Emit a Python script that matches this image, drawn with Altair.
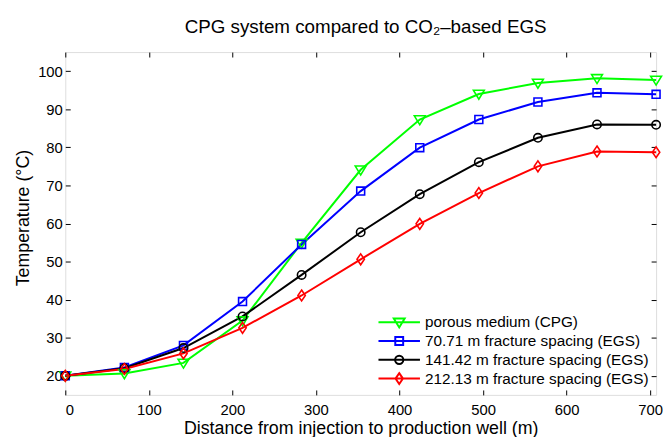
import altair as alt
import pandas as pd

# ---- data ----
distance = [0, 70.71, 141.42, 212.13, 282.84, 353.55, 424.26, 494.97, 565.69, 636.40, 707.11]
series_names = [
    "porous medium (CPG)",
    "70.71 m fracture spacing (EGS)",
    "141.42 m fracture spacing (EGS)",
    "212.13 m fracture spacing (EGS)",
]
temp_cpg = [20.0, 20.6, 23.4, 34.5, 54.9, 74.1, 87.3, 94.0, 96.9, 98.1, 97.7]
temp_70 = [20.0, 22.2, 28.0, 39.5, 54.5, 68.5, 79.9, 87.3, 91.9, 94.3, 93.9]
temp_141 = [20.0, 22.0, 27.3, 35.6, 46.5, 57.7, 67.7, 76.1, 82.5, 86.0, 85.9]
temp_212 = [20.0, 21.8, 25.9, 32.6, 41.1, 50.6, 59.9, 68.0, 75.0, 78.9, 78.7]
x_ticks = [0, 100, 200, 300, 400, 500, 600, 700]
y_ticks = [20, 30, 40, 50, 60, 70, 80, 90, 100]

colors = ["#00ff00", "#0000ff", "#000000", "#ff0000"]

# marker paths (plot) and legend paths (line + marker)
marker_paths = [
    "M-1.1,-0.75L1.1,-0.75L0,1.05Z",
    "M-0.8,-0.8H0.8V0.8H-0.8Z",
    "M0.85,0A0.85,0.85,0,1,1,-0.85,0A0.85,0.85,0,1,1,0.85,0",
    "M0,-1.1L0.75,0L0,1.1L-0.75,0Z",
]
legend_paths = [
    "M-1,0H1M-0.262,-0.179L0.262,-0.179L0,0.25Z",
    "M-1,0H1M-0.19,-0.19H0.19V0.19H-0.19Z",
    "M-1,0H1M0.2,0A0.2,0.2,0,1,1,-0.2,0A0.2,0.2,0,1,1,0.2,0",
    "M-1,0H1M0,-0.262L0.179,0L0,0.262L-0.179,0Z",
]

rows = []
for name, vals in zip(series_names, [temp_cpg, temp_70, temp_141, temp_212]):
    for d, t in zip(distance, vals):
        rows.append({"dist": d, "temp": t, "series": name})
df = pd.DataFrame(rows)

FONT = "Liberation Sans"
xscale = alt.Scale(domain=[0, 707.11], nice=False, zero=False)
yscale = alt.Scale(domain=[15, 105], nice=False, zero=False)
cscale = alt.Scale(domain=series_names, range=colors)

base = alt.Chart(df)

# layer 1: lines, with labelled axes
lines = base.mark_line(strokeWidth=2).encode(
    x=alt.X("dist:Q", scale=xscale, axis=alt.Axis(
        orient="bottom", values=x_ticks, ticks=False, tickSize=0, domain=False, grid=False,
        labelFont=FONT, labelFontSize=15, labelColor="black", labelPadding=8,
        title="Distance from injection to production well (m)", titleFont=FONT,
        titleFontSize=18, titleFontWeight="normal", titleColor="black",
        titleBaseline="alphabetic", titleY=39)),
    y=alt.Y("temp:Q", scale=yscale, axis=alt.Axis(
        orient="left", values=y_ticks, ticks=False, tickSize=0, domain=False, grid=False,
        labelFont=FONT, labelFontSize=15, labelColor="black", labelPadding=3,
        title="Temperature (°C)", titleFont=FONT, titleFontSize=18,
        titleFontWeight="normal", titleColor="black", titleBaseline="alphabetic",
        titleX=-37.7, titleY=167.5)),
    color=alt.Color("series:N", scale=cscale, legend=None),
    order=alt.Order("dist:Q"),
)

# layer 2: markers, with inward ticks at bottom/left
points = base.mark_point(filled=False, strokeWidth=1.6, size=100, opacity=1).encode(
    x=alt.X("dist:Q", scale=xscale, axis=alt.Axis(
        orient="bottom", values=x_ticks, labels=False, domain=False, grid=False,
        ticks=True, tickSize=5, tickColor="black", offset=-5, title=None)),
    y=alt.Y("temp:Q", scale=yscale, axis=alt.Axis(
        orient="left", values=y_ticks, labels=False, domain=False, grid=False,
        ticks=True, tickSize=5, tickColor="black", offset=-5, title=None)),
    color=alt.Color("series:N", scale=cscale, legend=None),
    shape=alt.Shape("series:N", scale=alt.Scale(domain=series_names, range=marker_paths), legend=None),
)

leg = alt.Legend(
    title=None, orient="none", legendX=316, legendY=265, padding=0,
    clipHeight=17, rowPadding=2, symbolSize=1764, symbolStrokeWidth=2,
    symbolOpacity=1, symbolFillColor="transparent",
    labelFont=FONT, labelFontSize=15.5, labelColor="black", labelLimit=400, labelOffset=4,
)

# layer 3: invisible marks carrying the legend and inward ticks at top/right
legend_layer = base.mark_point(filled=False, strokeWidth=2, opacity=0).encode(
    x=alt.X("dist:Q", scale=xscale, axis=alt.Axis(
        orient="top", values=x_ticks, labels=False, domain=False, grid=False,
        ticks=True, tickSize=5, tickColor="black", offset=-5, title=None)),
    y=alt.Y("temp:Q", scale=yscale, axis=alt.Axis(
        orient="right", values=y_ticks, labels=False, domain=False, grid=False,
        ticks=True, tickSize=5, tickColor="black", offset=-5, title=None)),
    color=alt.Color("series:N", scale=cscale, legend=leg),
    shape=alt.Shape("series:N", scale=alt.Scale(domain=series_names, range=legend_paths), legend=leg),
)

chart = alt.layer(lines, points, legend_layer).resolve_scale(
    color="independent", shape="independent"
).resolve_axis(
    x="independent", y="independent"
).properties(
    width=598, height=347,
    autosize=alt.AutoSizeParams(type="none"),
    padding={"left": 58, "top": 42, "right": 7, "bottom": 40},
    title=alt.TitleParams(
        text="CPG system compared to CO₂–based EGS", font=FONT, fontSize=19,
        fontWeight="normal", color="black", anchor="middle", frame="group",
        baseline="alphabetic", offset=0, dx=5),
).configure_view(stroke="black", strokeWidth=1).configure(background="white")

chart.save("out.html", embed_options={"renderer": "svg", "actions": False})
